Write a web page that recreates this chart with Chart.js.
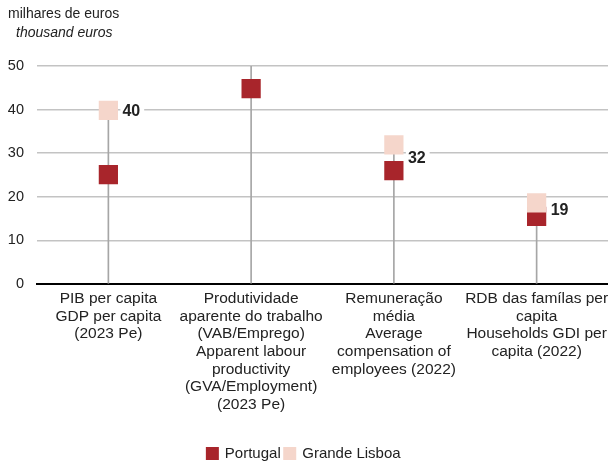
<!DOCTYPE html>
<html>
<head>
    <title>Grande Lisboa vs Portugal</title>
    <script src="https://cdn.jsdelivr.net/npm/chart.js"></script>
    <style>
        body { margin: 0; background: #fff; }
        .chart-container { position: relative; width: 608px; height: 461px; }
    </style>
</head>
<body>
    <div class="chart-container">
        <canvas id="dotChart"></canvas>
    </div>

    <script>
        const categories = [
            ['PIB per capita', 'GDP per capita', '(2023 Pe)'],
            ['Produtividade', 'aparente do trabalho', '(VAB/Emprego)', 'Apparent labour', 'productivity', '(GVA/Employment)', '(2023 Pe)'],
            ['Remuneração', 'média', 'Average', 'compensation of', 'employees (2022)'],
            ['RDB das famílas per', 'capita', 'Households GDI per', 'capita (2022)']
        ];
        const portugal = [25.1, 44.8, 26.0, 15.5];
        // Grande Lisboa productivity is off the 0-50 scale (drop line reaches the top)
        const grandeLisboa = [39.8, 58.0, 31.9, 18.6];
        const yTicks = [0, 10, 20, 30, 40, 50];

        const redColor = '#a8252b';
        const pinkColor = '#f5d6cb';
        const font = 'Liberation Sans, Arial, sans-serif';

        const dropLines = portugal.map((v, i) => [0, Math.max(v, grandeLisboa[i])]);

        const ctx = document.getElementById('dotChart').getContext('2d');
        const chart = new Chart(ctx, {
            type: 'bar',
            data: {
                labels: categories,
                datasets: [
                    {
                        label: 'drop',
                        data: dropLines,
                        backgroundColor: '#a6a6a6',
                        barThickness: 1,
                        order: 3
                    },
                    {
                        type: 'line',
                        label: 'Portugal',
                        data: portugal,
                        showLine: false,
                        pointStyle: 'rect',
                        pointRadius: 13.6,
                        pointHoverRadius: 13.6,
                        pointBorderWidth: 0,
                        backgroundColor: redColor,
                        borderColor: redColor,
                        order: 2
                    },
                    {
                        type: 'line',
                        label: 'Grande Lisboa',
                        data: grandeLisboa,
                        showLine: false,
                        pointStyle: 'rect',
                        pointRadius: 13.6,
                        pointHoverRadius: 13.6,
                        pointBorderWidth: 0,
                        backgroundColor: pinkColor,
                        borderColor: pinkColor,
                        order: 1
                    }
                ]
            },
            options: {
                responsive: true,
                maintainAspectRatio: false,
                animation: false,
                layout: {
                    autoPadding: false,
                    padding: { top: 66, left: 0, right: 0, bottom: 0 }
                },
                scales: {
                    x: {
                        offset: true,
                        grid: { display: false, drawTicks: false },
                        border: { display: true, color: '#000', width: 2 },
                        ticks: {
                            autoSkip: false,
                            maxRotation: 0,
                            minRotation: 0,
                            padding: 6,
                            color: '#222',
                            font: { family: font, size: 15.5, lineHeight: 1.14 }
                        },
                        afterFit: scale => {
                            scale.height = 148;
                            scale.paddingLeft = 0;
                            scale.paddingRight = 0;
                        }
                    },
                    y: {
                        min: 0,
                        max: 50,
                        afterBuildTicks: scale => {
                            scale.ticks = yTicks.map(v => ({ value: v }));
                        },
                        grid: {
                            drawTicks: false,
                            color: ctx => ctx.tick && ctx.tick.value === 0 ? 'rgba(0,0,0,0)' : '#c3c3c3',
                            lineWidth: 1.5
                        },
                        border: { display: false },
                        ticks: {
                            padding: 13,
                            color: '#222',
                            font: { family: font, size: 14.5 }
                        },
                        afterFit: scale => { scale.width = 37; }
                    }
                },
                plugins: {
                    legend: {
                        position: 'bottom',
                        labels: {
                            filter: item => item.text !== 'drop',
                            sort: (a, b) => a.datasetIndex - b.datasetIndex,
                            boxWidth: 10,
                            boxHeight: 10,
                            padding: 4,
                            color: '#222',
                            font: { family: font, size: 15 }
                        }
                    },
                    tooltip: { enabled: false }
                }
            },
            plugins: [{
                id: 'extras',
                afterLayout: chart => {
                    // nudge the legend down to sit near the bottom edge
                    chart.legend.top += 10;
                    chart.legend.bottom += 10;
                },
                afterDatasetsDraw: chart => {
                    const c = chart.ctx;
                    const yScale = chart.scales.y;
                    const meta = chart.getDatasetMeta(2);
                    c.save();
                    c.font = 'bold 16px ' + font;
                    c.textBaseline = 'middle';
                    c.textAlign = 'left';
                    meta.data.forEach((pt, i) => {
                        const v = grandeLisboa[i];
                        if (v > yScale.max) return;
                        let y = pt.y;
                        // push label down between markers when they sit close together
                        if (Math.abs(v - portugal[i]) < 8) {
                            y = (pt.y + yScale.getPixelForValue(portugal[i])) / 2;
                        }
                        const txt = String(Math.round(v));
                        const x = pt.x + 14;
                        const w = c.measureText(txt).width;
                        c.fillStyle = '#fff';
                        c.fillRect(x - 2, y - 9, w + 6, 18);
                        c.fillStyle = '#222';
                        c.fillText(txt, x, y + 1);
                    });
                    c.restore();
                },
                afterDraw: chart => {
                    const c = chart.ctx;
                    c.save();
                    c.fillStyle = '#222';
                    c.textBaseline = 'middle';
                    c.font = '14px ' + font;
                    c.fillText('milhares de euros', 8, 14);
                    c.font = 'italic 14px ' + font;
                    c.fillText('thousand euros', 16, 33);
                    c.restore();
                }
            }]
        });
    </script>
</body>
</html>
